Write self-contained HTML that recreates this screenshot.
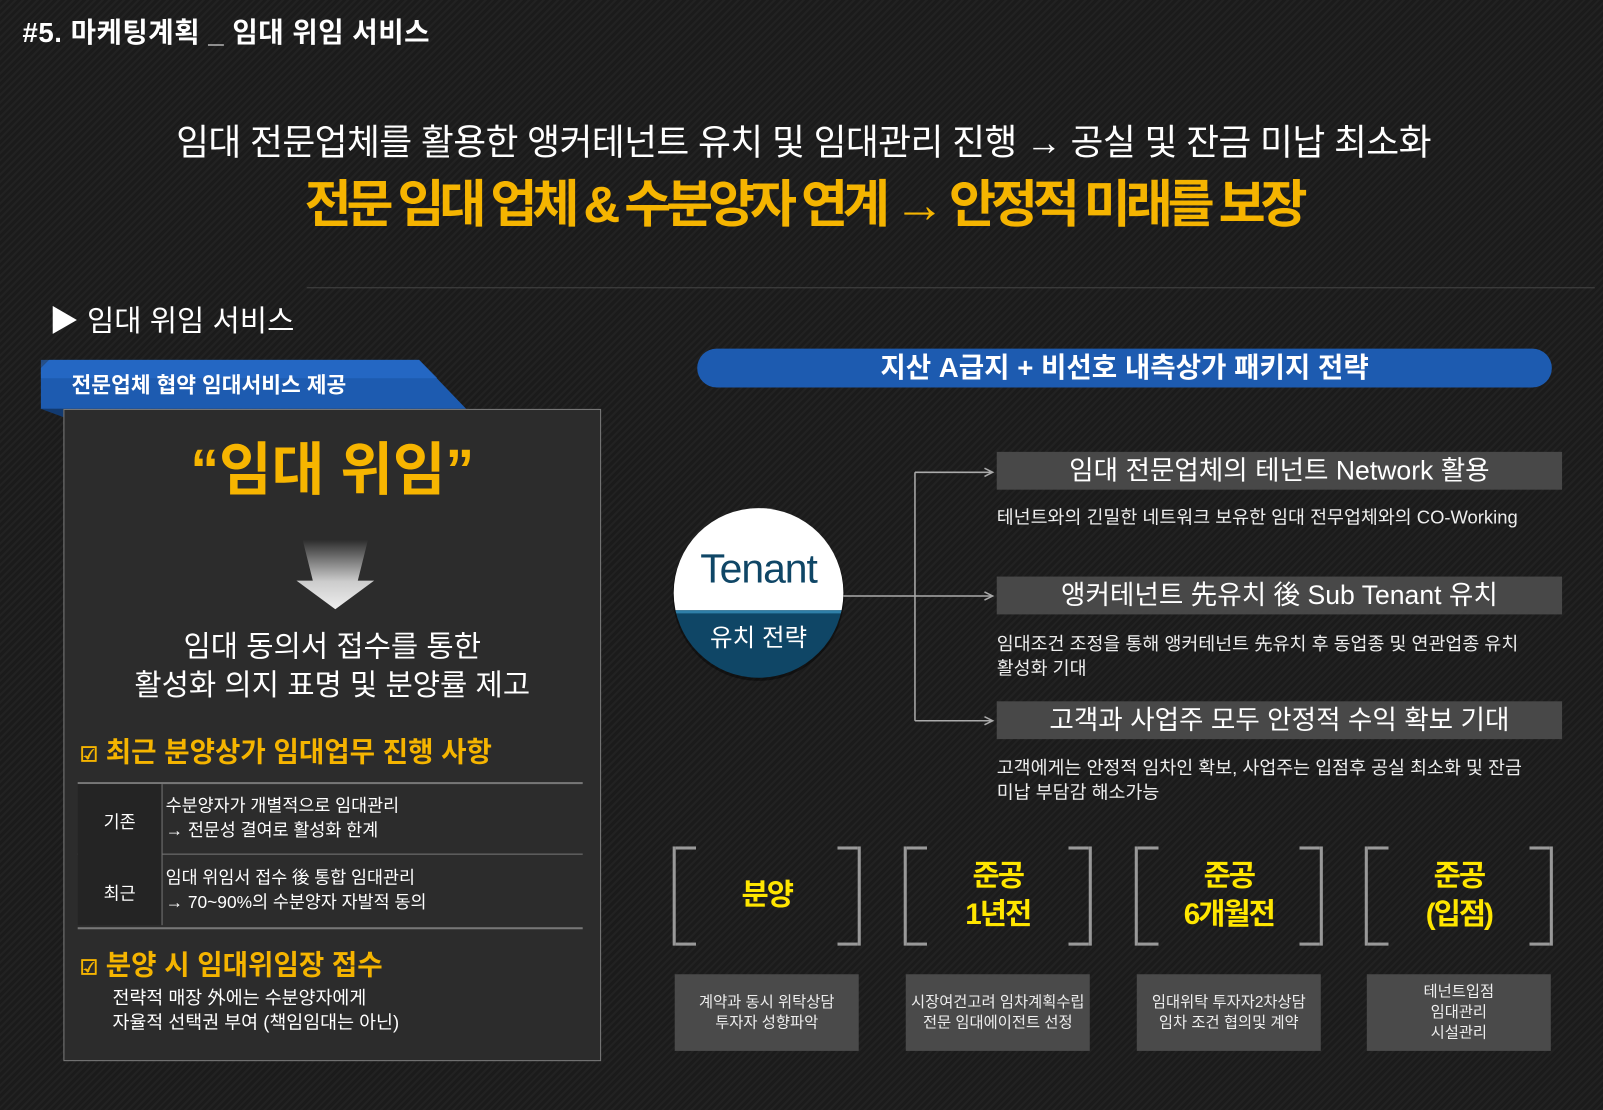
<!DOCTYPE html>
<html><head><meta charset="utf-8"><style>
html,body{margin:0;padding:0;width:1603px;height:1110px;overflow:hidden;background:#1e1e1e}
#s{position:absolute;left:0;top:0;width:1568px;height:1086px;transform:scale(1.0223);transform-origin:0 0;
background:repeating-linear-gradient(135deg,#222 0 2px,#1b1b1b 2px 5px);font-family:"Liberation Sans","Noto Sans CJK KR",sans-serif;color:#fff}
.a{position:absolute;white-space:nowrap}
.c{text-align:center}
.bar{position:absolute;left:975px;width:553px;height:37px;background:#484848;font-size:26px;line-height:37px;text-align:center}
.d{position:absolute;left:975px;font-size:18px;line-height:24px;color:#eee}
.br{position:absolute;top:828px;width:178px;height:97px;border:3px solid #999;border-top:none;border-bottom:none}
.br:before,.br:after{content:"";position:absolute;left:0;right:0;height:3px;background:linear-gradient(90deg,#999 0 20px,transparent 20px calc(100% - 20px),#999 calc(100% - 20px))}
.br:before{top:0}.br:after{bottom:0}
.bt{position:absolute;left:0;right:0;color:#ffe600;font-size:29px;font-weight:bold;line-height:38px;text-align:center;letter-spacing:-2px}
.bx{position:absolute;top:953px;width:180px;height:75px;background:#4a4a4a;font-size:15px;line-height:20px;text-align:center;display:flex;align-items:center;justify-content:center;color:#eee}
</style></head><body><div id="s">
<div class="a" style="left:22px;top:10px;font-size:27px;font-weight:bold;letter-spacing:0.5px">#5. 마케팅계획 _ 임대 위임 서비스</div>
<div class="a c" style="left:0;width:1572px;top:111px;font-size:35px;letter-spacing:-0.6px">임대 전문업체를 활용한 앵커테넌트 유치 및 임대관리 진행 → 공실 및 잔금 미납 최소화</div>
<div class="a c" style="left:0;width:1572px;top:160px;font-size:50px;font-weight:bold;color:#f5b400;letter-spacing:-5px;word-spacing:0px">전문 임대 업체 &amp; 수분양자 연계 → 안정적 미래를 보장</div>
<div class="a" style="left:300px;top:281px;width:1260px;height:1px;background:#444"></div>
<div class="a" style="left:48px;top:291px;font-size:29px">▶ 임대 위임 서비스</div>

<svg class="a" style="left:38px;top:350px" width="420" height="60"><polygon points="2,10 10,2 372,2 418,50 2,50" fill="#1d5bb0"/><polygon points="2,2 372,2 390,20 2,20" fill="#2a6fd0" opacity=".6"/><polygon points="2,50 24,50 24,58" fill="#123a70"/></svg>
<div class="a" style="left:70px;top:361px;font-size:21px;font-weight:bold">전문업체 협약 임대서비스 제공</div>
<div class="a" style="left:62px;top:400px;width:524px;height:636px;background:#2c2c2c;border:1px solid #7a7a7a"></div>
<div class="a c" style="left:62px;width:526px;top:415px;font-size:56px;font-weight:bold;color:#f7b500">“임대 위임”</div>
<svg class="a" style="left:288px;top:528px" width="80" height="70"><defs><linearGradient id="g" x1="0" y1="0" x2="0" y2="1"><stop offset="0" stop-color="#2c2c2c"/><stop offset=".6" stop-color="#ccc"/><stop offset="1" stop-color="#eee"/></linearGradient></defs><polygon points="8,0 72,0 62,40 78,40 40,68 2,40 18,40" fill="url(#g)"/></svg>
<div class="a c" style="left:62px;width:526px;top:614px;font-size:29px;line-height:38px">임대 동의서 접수를 통한<br>활성화 의지 표명 및 분양률 제고</div>
<div class="a" style="left:78px;top:714px;font-size:27px;font-weight:bold;color:#f5b400"><span style="font-size:20px">☑</span> 최근 분양상가 임대업무 진행 사항</div>
<div class="a" style="left:76px;top:765px;width:494px;height:140px;border-top:2px solid #777;border-bottom:2px solid #777"></div>
<div class="a" style="left:76px;top:835px;width:494px;height:1px;background:#777"></div>
<div class="a" style="left:76px;top:767px;width:82px;height:138px;background:#242424;border-right:1px solid #777"></div>
<div class="a c" style="left:76px;width:82px;top:790px;font-size:17px">기존</div>
<div class="a c" style="left:76px;width:82px;top:860px;font-size:17px">최근</div>
<div class="a" style="left:162px;top:777px;font-size:17px;line-height:24px">수분양자가 개별적으로 임대관리<br>→ 전문성 결여로 활성화 한계</div>
<div class="a" style="left:162px;top:847px;font-size:17px;line-height:24px">임대 위임서 접수 後 통합 임대관리<br>→ 70~90%의 수분양자 자발적 동의</div>
<div class="a" style="left:78px;top:922px;font-size:27px;font-weight:bold;color:#f5b400"><span style="font-size:20px">☑</span> 분양 시 임대위임장 접수</div>
<div class="a" style="left:110px;top:964px;font-size:18px;line-height:24px">전략적 매장 外에는 수분양자에게<br>자율적 선택권 부여 (책임임대는 아닌)</div>

<div class="a c" style="left:682px;top:341px;width:836px;height:38px;border-radius:19px;background:#1d5bb0;font-size:27px;font-weight:bold;line-height:38px">지산 A급지 + 비선호 내측상가 패키지 전략</div>
<svg class="a" style="left:650px;top:430px;overflow:visible" width="340" height="300">
<defs><clipPath id="cc"><circle cx="92" cy="150" r="83"/></clipPath></defs>
<circle cx="92" cy="152" r="84" fill="#000" opacity=".4"/>
<g clip-path="url(#cc)"><rect x="0" y="60" width="200" height="107" fill="#fff"/><rect x="0" y="167" width="200" height="100" fill="#0f4666"/><rect x="0" y="167" width="200" height="3" fill="#2f7fa8"/></g>
<text x="92" y="140" text-anchor="middle" font-size="40" fill="#0f4666" font-family="Liberation Sans,sans-serif" letter-spacing="-1">Tenant</text>
<text x="92" y="202" text-anchor="middle" font-size="24" fill="#fff" font-family="Liberation Sans,Noto Sans CJK KR,sans-serif">유치 전략</text>
<g stroke="#aaa" stroke-width="1.5" fill="none"><path d="M175,153 H320"/><path d="M245,32 V275"/><path d="M245,32 H320"/><path d="M245,275 H320"/>
<path d="M313,28 L321,32 L313,36"/><path d="M313,149 L321,153 L313,157"/><path d="M313,271 L321,275 L313,279"/></g>
</svg>
<div class="bar" style="top:442px">임대 전문업체의 테넌트 Network 활용</div>
<div class="d" style="top:494px">테넌트와의 긴밀한 네트워크 보유한 임대 전무업체와의 CO-Working</div>
<div class="bar" style="top:564px">앵커테넌트 先유치 後 Sub Tenant 유치</div>
<div class="d" style="top:618px">임대조건 조정을 통해 앵커테넌트 先유치 후 동업종 및 연관업종 유치<br>활성화 기대</div>
<div class="bar" style="top:686px">고객과 사업주 모두 안정적 수익 확보 기대</div>
<div class="d" style="top:739px">고객에게는 안정적 임차인 확보, 사업주는 입점후 공실 최소화 및 잔금<br>미납 부담감 해소가능</div>

<div class="br" style="left:658px"><div class="bt" style="top:29px">분양</div></div>
<div class="br" style="left:884px"><div class="bt" style="top:10px">준공<br>1년전</div></div>
<div class="br" style="left:1110px"><div class="bt" style="top:10px">준공<br>6개월전</div></div>
<div class="br" style="left:1335px"><div class="bt" style="top:10px">준공<br>(입점)</div></div>
<div class="bx" style="left:660px">계약과 동시 위탁상담<br>투자자 성향파악</div>
<div class="bx" style="left:886px">시장여건고려 임차계획수립<br>전문 임대에이전트 선정</div>
<div class="bx" style="left:1112px">임대위탁 투자자2차상담<br>임차 조건 협의및 계약</div>
<div class="bx" style="left:1337px">테넌트입점<br>임대관리<br>시설관리</div>
</div></body></html>
